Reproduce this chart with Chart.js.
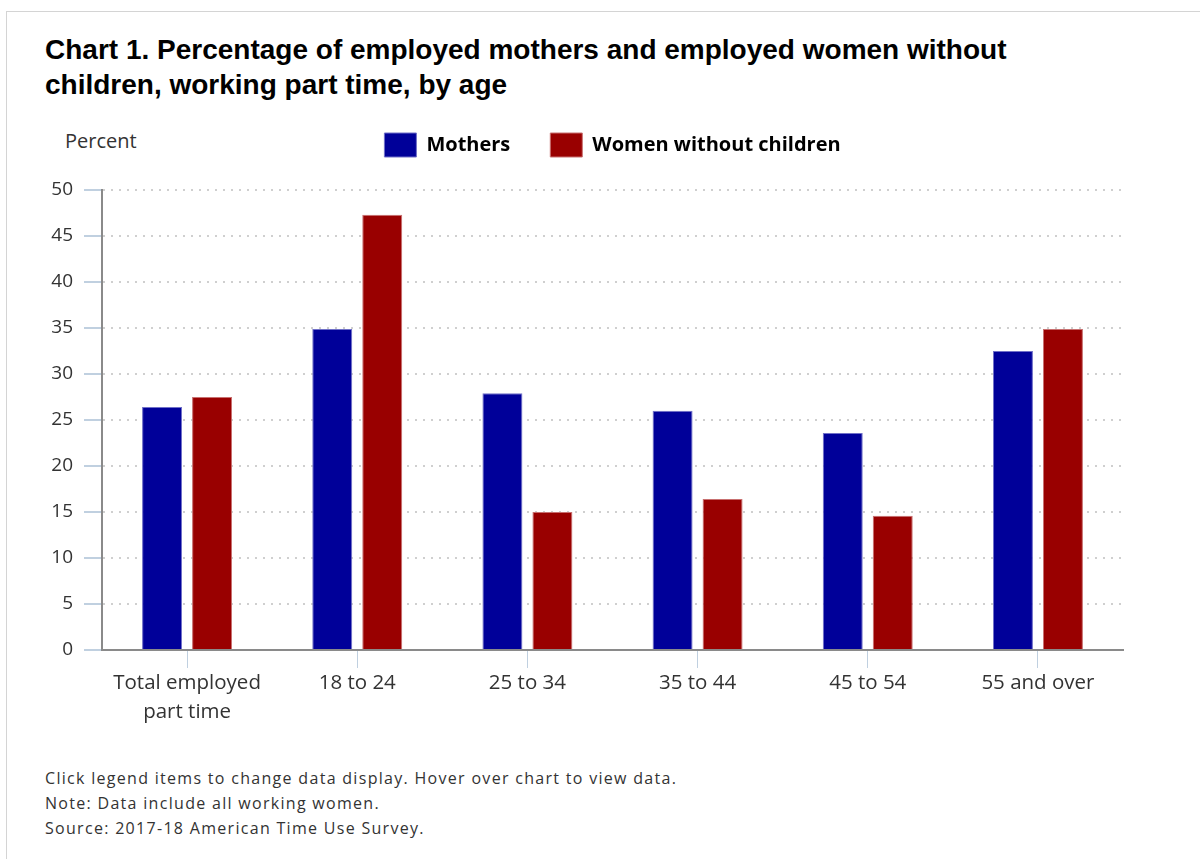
<!DOCTYPE html>
<html>
<head>
<meta charset="utf-8">
<script src="https://cdn.jsdelivr.net/npm/chart.js@4.4.1/dist/chart.umd.min.js"></script>
<style>
  body { margin: 0; background: #fff; width: 1200px; height: 859px; overflow: hidden; position: relative; }
  .frame { position: absolute; left: 6px; top: 11px; width: 1300px; height: 1000px; border: 1px solid #d4d4d4; }
  h1 { position: absolute; left: 45px; top: 32px; margin: 0; font: bold 28px "Liberation Sans", Arial, sans-serif; line-height: 35px; color: #000; width: 1050px; }
  .unit { position: absolute; left: 65px; top: 127px; font: 20px "Open Sans", sans-serif; color: #333; }
  #chart { position: absolute; left: 0; top: 93px; }
  .notes { position: absolute; left: 45px; top: 766px; font: 16px "Open Sans", sans-serif; letter-spacing: 1.3px; color: #333; line-height: 25px; }
</style>
</head>
<body>
<div class="frame"></div>
<h1>Chart 1. Percentage of employed mothers and employed women without children, working part time, by age</h1>
<div class="unit">Percent</div>
<canvas id="chart" width="1200" height="637"></canvas>
<div class="notes">
  Click legend items to change data display. Hover over chart to view data.<br>
  Note: Data include all working women.<br>
  Source: 2017-18 American Time Use Survey.
</div>
<script>
// --- data ---
const ageGroups = [['Total employed', 'part time'], '18 to 24', '25 to 34', '35 to 44', '45 to 54', '55 and over'];
const mothers = [26.4, 34.9, 27.9, 26.0, 23.6, 32.5];
const womenNoKids = [27.5, 47.3, 15.0, 16.4, 14.6, 34.9];
const yTicks = [0, 5, 10, 15, 20, 25, 30, 35, 40, 45, 50];

const FONT = '"Open Sans", sans-serif';

// legend gets a fixed height so the plot top lands where we want it
const legendHeight = {
    id: 'legendHeight',
    afterInit(chart) {
        const lg = chart.legend;
        if (!lg) return;
        const fit = lg.fit;
        lg.fit = function () { fit.call(this); this.height = 97; };
    }
};

new Chart(document.getElementById('chart'), {
    type: 'bar',
    data: {
        labels: ageGroups,
        datasets: [
            { label: 'Mothers', data: mothers, backgroundColor: '#000099', borderColor: '#7070c8', borderWidth: 1 },
            { label: 'Women without children', data: womenNoKids, backgroundColor: '#990000', borderColor: '#c87070', borderWidth: 1 }
        ]
    },
    options: {
        responsive: false,
        animation: false,
        categoryPercentage: 0.5876,
        barPercentage: 0.8,
        layout: { padding: { left: 0, right: 77, top: 0, bottom: 0 } },
        plugins: {
            tooltip: { enabled: false },
            legend: {
                position: 'top',
                fullSize: false,
                labels: {
                    boxWidth: 32, boxHeight: 24, padding: 40,
                    color: '#000',
                    font: { family: FONT, size: 20, weight: 'bold' }
                }
            }
        },
        scales: {
            x: {
                grid: { drawOnChartArea: false, offset: false, tickLength: 18, tickColor: '#c0d0e0', tickWidth: 1 },
                border: { color: '#8a8a8a', width: 2 },
                ticks: { color: '#333', font: { family: FONT, size: 20.5, lineHeight: 1.4 }, padding: 1, maxRotation: 0, autoSkip: false },
                afterFit(scale) { scale.height = 80; }
            },
            y: {
                min: 0, max: 50,
                afterBuildTicks(scale) { scale.ticks = yTicks.map(v => ({ value: v })); },
                grid: { color: '#cfcfcf', lineWidth: 2, tickLength: 18, tickColor: '#c0d0e0', tickWidth: 2, tickBorderDash: [] },
                border: { color: '#8a8a8a', width: 2, dash: [2, 6] },
                ticks: { color: '#333', font: { family: FONT, size: 19 }, padding: 11 },
                afterFit(scale) { scale.width = 102; }
            }
        }
    },
    plugins: [legendHeight]
});
</script>
</body>
</html>
